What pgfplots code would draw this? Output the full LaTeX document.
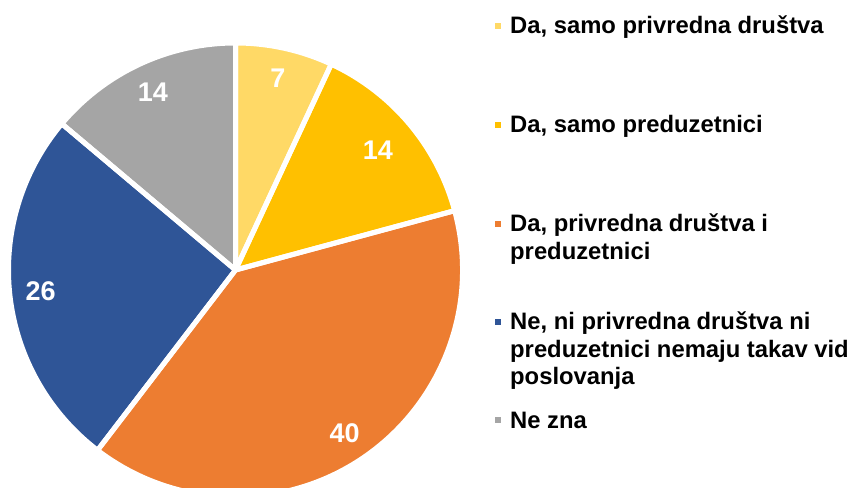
\documentclass[border=0pt]{standalone}
\usepackage{pgfplots}
\pgfplotsset{compat=1.18}
\usepackage{pgfplotstable}
\usepackage{fontspec}
\setmainfont{Liberation Sans}
\definecolor{c0}{HTML}{FFD966}
\definecolor{c1}{HTML}{FFC000}
\definecolor{c2}{HTML}{ED7D31}
\definecolor{c3}{HTML}{2F5597}
\definecolor{c4}{HTML}{A5A5A5}
\pgfplotstableread{
value ld
7  196
14 186
40 196
26 196
14 196
}\piedata
% precompute slice angles from the table
\xdef\tot{0}
\foreach \i in {0,...,4}{%
  \pgfplotstablegetelem{\i}{value}\of\piedata
  \pgfmathsetmacro\nt{\tot+\pgfplotsretval}%
  \xdef\tot{\nt}%
}
\xdef\cumv{0}
\foreach \i in {0,...,4}{%
  \pgfplotstablegetelem{\i}{value}\of\piedata \let\vv\pgfplotsretval
  \pgfplotstablegetelem{\i}{ld}\of\piedata \let\dd\pgfplotsretval
  \pgfmathsetmacro\aa{90-360*(\cumv/\tot)}%
  \pgfmathsetmacro\bb{90-360*((\cumv+\vv)/\tot)}%
  \pgfmathsetmacro\mm{(\aa+\bb)/2}%
  \expandafter\xdef\csname pa\i\endcsname{\aa}%
  \expandafter\xdef\csname pb\i\endcsname{\bb}%
  \expandafter\xdef\csname pm\i\endcsname{\mm}%
  \expandafter\xdef\csname pv\i\endcsname{\vv}%
  \expandafter\xdef\csname pd\i\endcsname{\dd}%
  \pgfmathsetmacro\nc{\cumv+\vv}%
  \xdef\cumv{\nc}%
}
\tikzset{plabel/.style={text=white, font=\bfseries\fontsize{27bp}{30bp}\selectfont, inner sep=0pt}}
\begin{document}
\begin{tikzpicture}
\begin{axis}[width=852bp, height=488bp, scale only axis, xmin=0, xmax=852, ymin=0, ymax=488, hide axis, clip=false]
\coordinate (BL) at (axis cs:0,0);
\coordinate (TR) at (axis cs:852,488);
\pgfplotsinvokeforeach{0,...,4}{%
  \edef\temp{\noexpand\fill[fill=c#1] (axis cs:235.5,218) -- ++(\csname pa#1\endcsname:227bp) arc[start angle=\csname pa#1\endcsname, end angle=\csname pb#1\endcsname, radius=227bp] -- cycle;}%
  \temp
}
\pgfplotsinvokeforeach{0,...,4}{%
  \edef\temp{\noexpand\draw[white, line width=5bp, line join=round] (axis cs:235.5,218) -- ++(\csname pa#1\endcsname:227bp) arc[start angle=\csname pa#1\endcsname, end angle=\csname pb#1\endcsname, radius=227bp] -- cycle;}%
  \temp
}
\pgfplotsinvokeforeach{0,...,4}{%
  \edef\temp{\noexpand\node[plabel] at ([shift={(\csname pm#1\endcsname:\csname pd#1\endcsname bp)}]axis cs:235.5,218) {\csname pv#1\endcsname};}%
  \temp
}
% legend
\fill[c0] (axis cs:495,459) rectangle (axis cs:501,465);
\fill[c1] (axis cs:495,360.3) rectangle (axis cs:501,366.3);
\fill[c2] (axis cs:495,261.3) rectangle (axis cs:501,267.3);
\fill[c3] (axis cs:495,163) rectangle (axis cs:501,169);
\fill[c4] (axis cs:495,64.7) rectangle (axis cs:501,70.7);
\begin{scope}[every node/.style={anchor=base west, inner sep=0pt, font=\bfseries\fontsize{23.8bp}{27.5bp}\selectfont}]
\node at (axis cs:510,454) {Da, samo privredna društva};
\node at (axis cs:510,355.3) {Da, samo preduzetnici};
\node at (axis cs:510,256.3) {Da, privredna društva i};
\node at (axis cs:510,228.8) {preduzetnici};
\node at (axis cs:510,158) {Ne, ni privredna društva ni};
\node at (axis cs:510,130.5) {preduzetnici nemaju takav vid};
\node at (axis cs:510,103) {poslovanja};
\node at (axis cs:510,59.7) {Ne zna};
\end{scope}
\end{axis}
\pgfresetboundingbox
\path (BL) rectangle (TR);
\end{tikzpicture}
\end{document}
